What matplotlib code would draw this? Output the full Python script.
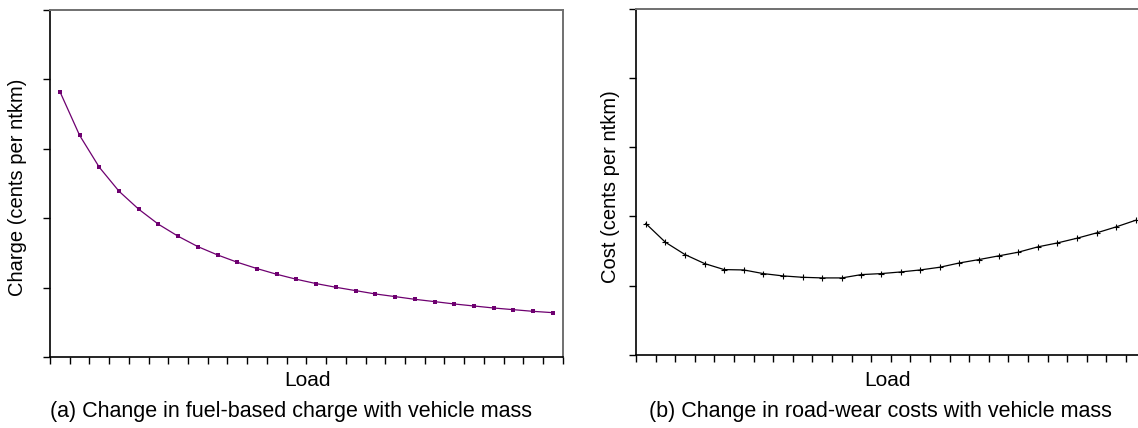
"""Two-panel chart: fuel-based charge and road-wear cost against vehicle load."""
import matplotlib

matplotlib.use("Agg")
import matplotlib.pyplot as plt
import numpy as np

plt.rcParams["font.family"] = ["Liberation Sans", "DejaVu Sans"]

# 26 load steps, no tick labels in the original
load_steps = list(range(26))

fuel_charge = [
    3.82, 3.19, 2.73, 2.385, 2.126, 1.91, 1.737, 1.588, 1.468, 1.363,
    1.272, 1.19, 1.118, 1.056, 1.003, 0.955, 0.907, 0.869, 0.830, 0.797,
    0.763, 0.734, 0.705, 0.681, 0.657, 0.638,
]
road_wear_cost = [
    1.898, 1.628, 1.45, 1.32, 1.233, 1.228, 1.175, 1.142, 1.122, 1.113,
    1.113, 1.161, 1.175, 1.199, 1.228, 1.267, 1.329, 1.378, 1.431, 1.484,
    1.561, 1.618, 1.686, 1.763, 1.85, 1.946,
]
y_ticks = [0, 1, 2, 3, 4, 5]

W, H = 1138, 428


def style_axes(ax, n):
    ax.set_xlim(-0.5, n - 0.5)
    ax.set_ylim(y_ticks[0], y_ticks[-1])
    ax.set_xticks(np.arange(-0.5, n, 1.0))
    ax.set_yticks(y_ticks)
    ax.set_xticklabels([])
    ax.set_yticklabels([])
    ax.tick_params(direction="out", length=5, width=1.0, color="black")
    for side in ("left", "bottom"):
        ax.spines[side].set_color("black")
        ax.spines[side].set_linewidth(1.2)
    for side in ("top", "right"):
        ax.spines[side].set_color("#707070")
        ax.spines[side].set_linewidth(1.4)


fig = plt.figure(figsize=(W / 100, H / 100), dpi=100)

ax1 = fig.add_axes([50 / W, (H - 357) / H, 512.7 / W, 347.5 / H])
ax1.plot(load_steps, fuel_charge, color="#6e0070", linewidth=0.9,
         marker="s", markersize=3, markeredgewidth=0)
style_axes(ax1, len(load_steps))

ax2 = fig.add_axes([636 / W, (H - 355) / H, 509.6 / W, 346.3 / H])
ax2.plot(load_steps, road_wear_cost, color="black", linewidth=0.9,
         marker="+", markersize=4, markeredgewidth=0.8)
style_axes(ax2, len(load_steps))

fig.text(18 / W, 1 - 187 / H, "Charge (cents per ntkm)", rotation=90,
         ha="center", va="center", fontsize=14.5)
fig.text(611 / W, 1 - 187 / H, "Cost (cents per ntkm)", rotation=90,
         ha="center", va="center", fontsize=14.5)
fig.text(307 / W, 1 - 381 / H, "Load", ha="center", va="center", fontsize=15)
fig.text(887 / W, 1 - 381 / H, "Load", ha="center", va="center", fontsize=15)
fig.text(291 / W, 1 - 411 / H, "(a) Change in fuel-based charge with vehicle mass",
         ha="center", va="center", fontsize=15.5)
fig.text(880 / W, 1 - 411 / H, "(b) Change in road-wear costs with vehicle mass",
         ha="center", va="center", fontsize=15.5)

fig.savefig("out.png", dpi=100)
plt.close(fig)
